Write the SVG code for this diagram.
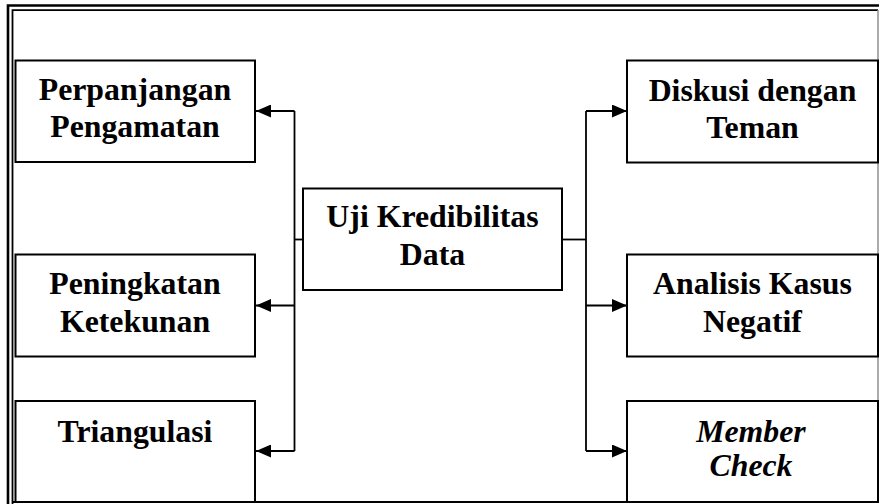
<svg xmlns="http://www.w3.org/2000/svg" width="879" height="504" viewBox="0 0 879 504">
<style>
.box{fill:#fff;stroke:#000;stroke-width:2}
.t{font-family:"Liberation Serif","Times New Roman",serif;font-weight:bold;font-size:31.8px;text-anchor:middle;fill:#000}
.it{font-style:italic}
.c{fill:none;stroke:#000;stroke-width:1.8}
</style>
<defs>
<marker id="ah" markerUnits="userSpaceOnUse" markerWidth="15" markerHeight="13" refX="15" refY="6.5" orient="auto">
<path d="M0,0 L15,6.5 L0,13 z" fill="#000"/>
</marker>
</defs>
<rect width="879" height="504" fill="#fff"/>
<g id="frame">
<path d="M8,504 V5.5 H879" fill="none" stroke="#000" stroke-width="2.6"/>
<path d="M12.5,504 V10.2 H878" fill="none" stroke="#000" stroke-width="1.8"/>
<line x1="878" y1="10" x2="878" y2="502" stroke="#888" stroke-width="1.4"/>
<line x1="12" y1="502" x2="879" y2="502" stroke="#000" stroke-width="1.8"/>
</g>
<g id="connectors">
<polyline class="c" points="294.5,451 294.5,111"/>
<line class="c" x1="294.5" y1="239.5" x2="303" y2="239.5"/>
<line class="c" x1="294.5" y1="111" x2="256" y2="111" marker-end="url(#ah)"/>
<line class="c" x1="294.5" y1="305.5" x2="256" y2="305.5" marker-end="url(#ah)"/>
<line class="c" x1="294.5" y1="451" x2="256" y2="451" marker-end="url(#ah)"/>
<polyline class="c" points="586,451 586,111"/>
<line class="c" x1="562" y1="239.5" x2="586" y2="239.5"/>
<line class="c" x1="586" y1="111" x2="627" y2="111" marker-end="url(#ah)"/>
<line class="c" x1="586" y1="305.5" x2="627" y2="305.5" marker-end="url(#ah)"/>
<line class="c" x1="586" y1="451" x2="627" y2="451" marker-end="url(#ah)"/>
</g>
<g id="perpanjangan">
<rect class="box" x="15.5" y="60.5" width="239.5" height="101.5"/>
<text class="t" x="135" y="100">Perpanjangan</text>
<text class="t" x="135" y="137">Pengamatan</text>
</g>
<g id="peningkatan">
<rect class="box" x="15.5" y="254.5" width="239.5" height="102"/>
<text class="t" x="135" y="294">Peningkatan</text>
<text class="t" x="135" y="331.5">Ketekunan</text>
</g>
<g id="triangulasi">
<rect class="box" x="15.5" y="401" width="239.5" height="101"/>
<text class="t" x="135" y="441.5">Triangulasi</text>
</g>
<g id="uji">
<rect class="box" x="303" y="188.5" width="259" height="101.5"/>
<text class="t" x="432.5" y="226.5">Uji Kredibilitas</text>
<text class="t" x="432.5" y="265">Data</text>
</g>
<g id="diskusi">
<rect class="box" x="627" y="60.5" width="251" height="102"/>
<text class="t" x="752.5" y="101">Diskusi dengan</text>
<text class="t" x="752.5" y="138">Teman</text>
</g>
<g id="analisis">
<rect class="box" x="627" y="254.5" width="251" height="102"/>
<text class="t" x="752.5" y="294">Analisis Kasus</text>
<text class="t" x="752.5" y="331.5">Negatif</text>
</g>
<g id="member">
<rect class="box" x="627" y="401" width="251" height="101"/>
<text class="t it" x="751" y="441.5">Member</text>
<text class="t it" x="751" y="476">Check</text>
</g>
</svg>
